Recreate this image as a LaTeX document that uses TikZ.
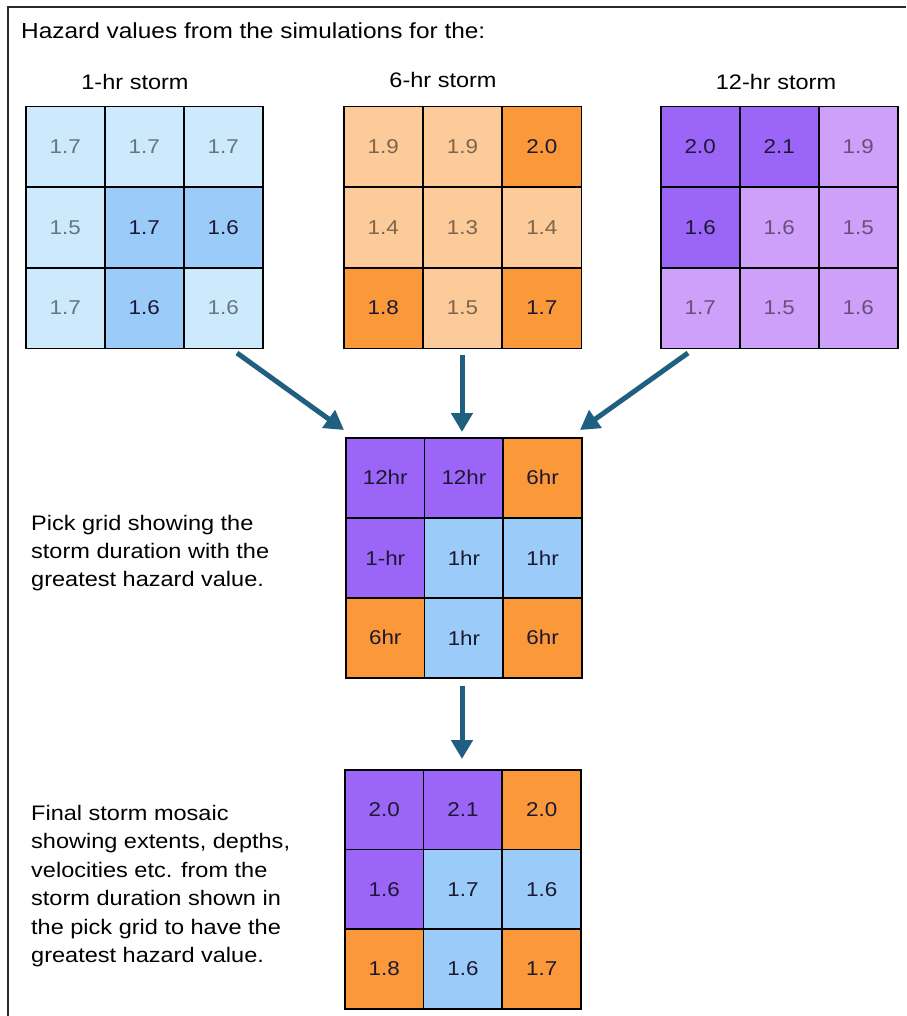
\documentclass[tikz,border=0pt]{standalone}
\usepackage{fontspec}
\setmainfont{Liberation Sans}[FakeStretch=1.12]
\usetikzlibrary{arrows.meta}
\definecolor{blueL}{HTML}{CDEAFD}
\definecolor{blueD}{HTML}{9BCBF8}
\definecolor{orL}{HTML}{FCCB99}
\definecolor{orD}{HTML}{FB993A}
\definecolor{puL}{HTML}{CFA0FA}
\definecolor{puD}{HTML}{9B66F8}
\definecolor{txD}{HTML}{1C1830}
\definecolor{arrowc}{HTML}{1F5F7F}
\definecolor{framec}{HTML}{2A2A2A}
\begin{document}
\begin{tikzpicture}[x=1pt,y=-1pt,
  cell/.style={draw=black, line width=1.5pt, minimum width=79pt, minimum height=80.5pt,
    inner sep=0pt, anchor=north west, font=\fontsize{20}{23}\selectfont},
  lite/.style={cell, text=black, text opacity=0.5},
  dark/.style={cell, text=txD},
  lbl/.style={font=\fontsize{21}{28.4}\selectfont, inner sep=0pt},
  para/.style={lbl, anchor=west, align=left},
  flow/.style={draw=arrowc, line width=5pt, -{Triangle[width=21pt,length=19pt]}}]
\useasboundingbox (0,0) rectangle (906,1016);
\fill[white] (0,0) rectangle (906,1016);
% frame
\draw[framec, line width=2pt] (8,1016) -- (8,7.5) -- (906,7.5);
% title and labels
\node[lbl, anchor=west, font=\fontsize{21.8}{26}\selectfont] (title) at (21,31) {Hazard values from the simulations for the:};
\node[lbl] (l1) at (135,82) {1-hr storm};
\node[lbl] (l6) at (443,80) {6-hr storm};
\node[lbl] (l12) at (776,82) {12-hr storm};
% grid 1
\foreach \c/\r/\s/\f/\v in {0/0/lite/blueL/1.7, 1/0/lite/blueL/1.7, 2/0/lite/blueL/1.7,
  0/1/lite/blueL/1.5, 1/1/dark/blueD/1.7, 2/1/dark/blueD/1.6,
  0/2/lite/blueL/1.7, 1/2/dark/blueD/1.6, 2/2/lite/blueL/1.6}
  \node[\s, fill=\f] (ga-\c-\r) at ({25+\c*79},{106+\r*80.5}) {\v};
% grid 2
\foreach \c/\r/\s/\f/\v in {0/0/lite/orL/1.9, 1/0/lite/orL/1.9, 2/0/dark/orD/2.0,
  0/1/lite/orL/1.4, 1/1/lite/orL/1.3, 2/1/lite/orL/1.4,
  0/2/dark/orD/1.8, 1/2/lite/orL/1.5, 2/2/dark/orD/1.7}
  \node[\s, fill=\f] (gb-\c-\r) at ({343+\c*79.3},{106+\r*80.5}) {\v};
% grid 3
\foreach \c/\r/\s/\f/\v in {0/0/dark/puD/2.0, 1/0/dark/puD/2.1, 2/0/lite/puL/1.9,
  0/1/dark/puD/1.6, 1/1/lite/puL/1.6, 2/1/lite/puL/1.5,
  0/2/lite/puL/1.7, 1/2/lite/puL/1.5, 2/2/lite/puL/1.6}
  \node[\s, fill=\f] (gc-\c-\r) at ({660+\c*79},{106+\r*80.5}) {\v};
% pick grid
\foreach \c/\r/\f/\v in {0/0/puD/12hr, 1/0/puD/12hr, 2/0/orD/6hr,
  0/1/puD/1-hr, 1/1/blueD/1hr, 2/1/blueD/1hr,
  0/2/orD/6hr, 1/2/blueD/1hr, 2/2/orD/6hr}
  \node[dark, minimum height=80pt, fill=\f] (gp-\c-\r) at ({345+\c*78.7},{437+\r*80}) {\v};
% final grid
\foreach \c/\r/\f/\v in {0/0/puD/2.0, 1/0/puD/2.1, 2/0/orD/2.0,
  0/1/puD/1.6, 1/1/blueD/1.7, 2/1/blueD/1.6,
  0/2/orD/1.8, 1/2/blueD/1.6, 2/2/orD/1.7}
  \node[dark, minimum height=79.7pt, fill=\f] (gf-\c-\r) at ({344+\c*78.7},{769+\r*79.7}) {\v};
% side texts
\node[para] (pickt) at (31,553) {Pick grid showing the\\storm duration with the\\greatest hazard value.};
\node[para] (finalt) at (31,886) {Final storm mosaic\\showing extents, depths,\\velocities etc. from the\\storm duration shown in\\the pick grid to have the\\greatest hazard value.};
% arrow coordinates
\coordinate (a1s) at (237,353);
\coordinate (a1e) at (344,430);
\coordinate (a2s) at (462,355);
\coordinate (a2e) at (462,432);
\coordinate (a3s) at (688,353);
\coordinate (a3e) at (580,430);
\coordinate (a4s) at (462,686);
\coordinate (a4e) at (462,759);
\draw[flow] (a1s) -- (a1e);
\draw[flow] (a2s) -- (a2e);
\draw[flow] (a3s) -- (a3e);
\draw[flow] (a4s) -- (a4e);
\end{tikzpicture}
\end{document}
